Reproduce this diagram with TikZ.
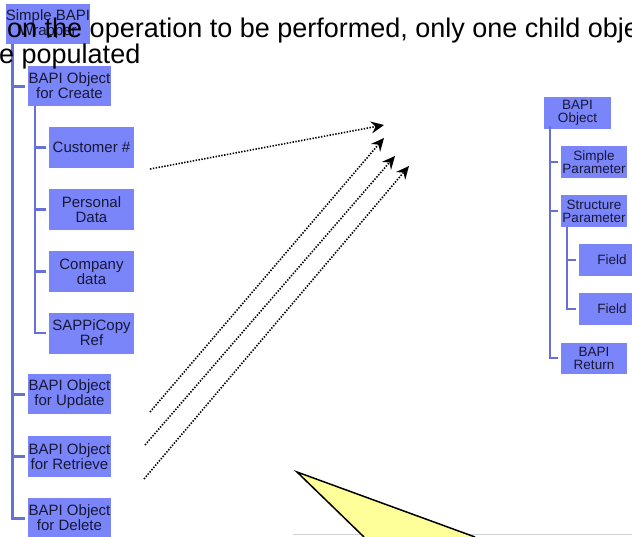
\documentclass[tikz,border=0pt]{standalone}
\usepackage{fontspec}
\setmainfont{Liberation Sans}
\usetikzlibrary{arrows.meta}
\definecolor{boxblue}{RGB}{122,133,250}
\definecolor{treeblue}{RGB}{102,112,214}
\definecolor{boxtext}{RGB}{24,24,52}
\definecolor{calloutyellow}{RGB}{255,255,153}
\begin{document}
\begin{tikzpicture}[x=1pt, y=-1pt,
    every node/.style={align=center, inner sep=0pt},
    obj box/.style={fill=boxblue, text=boxtext, font=\fontsize{15}{15}\selectfont},
    small box/.style={fill=boxblue, text=boxtext, font=\fontsize{13.5}{13}\selectfont,
        minimum width=66pt, minimum height=32pt},
    tree line/.style={draw=treeblue, line width=2.6pt, shorten >=3pt},
    dotted arrow/.style={draw, line width=1.6pt, dash pattern=on 1.4pt off 1.5pt,
        -{Stealth[length=13pt, width=12pt, inset=4.5pt]}},
    slide text/.style={anchor=base west, font=\fontsize{27}{26}\selectfont},
    ]
\useasboundingbox (0,0) rectangle (632,536);
\clip (0,0) rectangle (632,536);
% left tree
\node[obj box, minimum width=84pt, minimum height=40pt] (wrapper) at (48,24) {Simple BAPI\\Wrapper};
\node[obj box, minimum width=83pt, minimum height=40pt] (create) at (69.5,86) {BAPI Object\\for Create};
\node[obj box, minimum width=85pt, minimum height=41pt] (customer) at (91.5,147.5) {Customer \#};
\node[obj box, minimum width=85pt, minimum height=41pt] (personal) at (91.5,209.5) {Personal\\Data};
\node[obj box, minimum width=85pt, minimum height=41pt] (company) at (91.5,271.5) {Company\\data};
\node[obj box, minimum width=85pt, minimum height=41pt] (copyref) at (91.5,333) {SAPPiCopy\\Ref};
\node[obj box, minimum width=83pt, minimum height=40pt] (update) at (69.5,394) {BAPI Object\\for Update};
\node[obj box, minimum width=83pt, minimum height=41pt] (retrieve) at (69.5,456.5) {BAPI Object\\for Retrieve};
\node[obj box, minimum width=83pt, minimum height=40pt] (delete) at (69.5,518) {BAPI Object\\for Delete};
\foreach \child in {create, update, retrieve, delete}
    \draw[tree line, line width=3pt] ([xshift=7pt]wrapper.south west) |- (\child.west);
\foreach \child in {customer, personal, company, copyref}
    \draw[tree line] ([xshift=7pt]create.south west) |- (\child.west);
% right tree
\node[small box, minimum width=67pt] (object) at (577.5,113) {BAPI\\Object};
\node[small box] (simple) at (594,162) {Simple\\Parameter};
\node[small box] (structure) at (594,211) {Structure\\Parameter};
\node[small box] (field1) at (612,260) {Field};
\node[small box] (field2) at (612,309) {Field};
\node[small box, minimum height=31pt] (return) at (594,358) {BAPI\\Return};
\foreach \child in {simple, structure, return}
    \draw[tree line] ([xshift=6pt, yshift=3pt]object.south west) |- (\child.west);
\foreach \child in {field1, field2}
    \draw[tree line] ([xshift=6pt]structure.south west) |- (\child.west);
% slide text
\node[slide text] (line2) at (7,37) {on the operation to be performed, only one child object will};
\node[slide text] (line3) at (-1,63) {e populated};
% dotted arrows
\coordinate (s1) at (150,169);
\coordinate (e1) at (384,125);
\coordinate (s2) at (150,412);
\coordinate (e2) at (384,138);
\coordinate (s3) at (145,445);
\coordinate (e3) at (395,156);
\coordinate (s4) at (144,479);
\coordinate (e4) at (409,166);
\foreach \i in {1,...,4}
    \draw[dotted arrow] (s\i) -- (e\i);
% callout
\draw[gray!35, line width=1pt] (293,534.5) -- (632,534.5);
\fill[calloutyellow] (297,472) -- (364,537) -- (475,537) -- cycle;
\draw[line width=1.5pt, line join=miter] (364,537) -- (297,472) -- (475,537);
\end{tikzpicture}
\end{document}
